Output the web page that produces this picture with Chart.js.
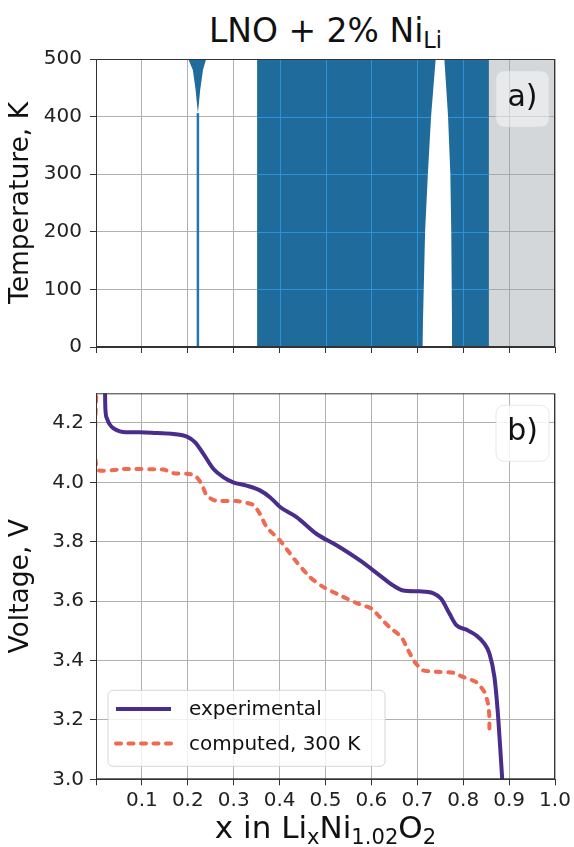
<!DOCTYPE html>
<html>
<head>
<meta charset="utf-8">
<script src="https://cdn.jsdelivr.net/npm/chart.js@4.4.1/dist/chart.umd.min.js"></script>
<style>
  html, body { margin: 0; padding: 0; background: #fff; }
  #wrap { position: relative; width: 574px; height: 847px; font-family: 'DejaVu Sans', sans-serif; color: #111; }
  canvas { position: absolute; left: 0; }
  #topChart { top: 0; z-index: 1; }
  #bottomChart { top: 360px; }
  .title { position: absolute; left: 96px; width: 459px; text-align: center; line-height: 1; white-space: nowrap; }
  .sub { font-size: 0.68em; position: relative; top: 0.28em; }
</style>
</head>
<body>
<div id="wrap">
  <canvas id="bottomChart" width="574" height="487"></canvas>
  <canvas id="topChart" width="574" height="367"></canvas>
  <div class="title" style="top:14px; font-size:33px;">LNO + 2% Ni<span class="sub">Li</span></div>
  <div class="title" style="top:812px; font-size:31px;">x in Li<span class="sub">x</span>Ni<span class="sub">1.02</span>O<span class="sub">2</span></div>
</div>
<script>
// axes
const xTicks = [0, 0.1, 0.2, 0.3, 0.4, 0.5, 0.6, 0.7, 0.8, 0.9, 1.0];
const xTickLabels = ['', '0.1', '0.2', '0.3', '0.4', '0.5', '0.6', '0.7', '0.8', '0.9', '1.0'];
const tTicks = [0, 100, 200, 300, 400, 500];
const vTicks = [3.0, 3.2, 3.4, 3.6, 3.8, 4.0, 4.2];

// a) phase map: ordered region (block), disordered gap, narrow spike, unstable range
const blockX = [0.351, 0.351, 0.856, 0.856];
const blockT = [0, 500, 500, 0];
const gapX = [0.711, 0.714, 0.717, 0.723, 0.730, 0.740, 0.759, 0.767, 0.772, 0.774, 0.775, 0.776];
const gapT = [0, 100, 200, 300, 400, 500, 500, 400, 300, 200, 100, 0];
const spikeX = [0.201, 0.211, 0.217, 0.222, 0.227, 0.233, 0.240];
const spikeT = [500, 481, 446, 406, 446, 481, 500];
const stemX = [0.222, 0.222];
const stemT = [0, 406];
const greyX = [0.856, 0.856, 1.0, 1.0];
const greyT = [0, 500, 500, 0];

// b) voltage profiles
const expX = [0.0195, 0.020, 0.021, 0.024, 0.030, 0.040, 0.052, 0.065, 0.096, 0.133, 0.169, 0.198, 0.216, 0.234,
  0.256, 0.278, 0.299, 0.328, 0.357, 0.379, 0.401, 0.437, 0.480, 0.524, 0.575, 0.618, 0.647, 0.669, 0.705,
  0.734, 0.752, 0.770, 0.785, 0.807, 0.828, 0.846, 0.857, 0.868, 0.875, 0.880, 0.885];
const expV = [4.33, 4.27, 4.235, 4.215, 4.195, 4.18, 4.172, 4.169, 4.169, 4.166, 4.163, 4.154, 4.135, 4.096,
  4.045, 4.017, 4.0, 3.989, 3.973, 3.950, 3.917, 3.883, 3.827, 3.788, 3.737, 3.687, 3.653, 3.636, 3.633,
  3.627, 3.608, 3.558, 3.519, 3.504, 3.485, 3.457, 3.424, 3.345, 3.233, 3.121, 3.0];
const calcX = [0.001, 0.002, 0.060, 0.147, 0.169, 0.198, 0.216, 0.230, 0.241, 0.259, 0.307, 0.343, 0.357, 0.372,
  0.401, 0.415, 0.437, 0.466, 0.495, 0.531, 0.567, 0.600, 0.618, 0.639, 0.665, 0.680, 0.694, 0.712, 0.741,
  0.778, 0.799, 0.828, 0.846, 0.854, 0.857, 0.857];
const calcV = [4.33, 4.045, 4.045, 4.043, 4.031, 4.029, 4.023, 3.995, 3.956, 3.939, 3.937, 3.924, 3.894, 3.849,
  3.804, 3.776, 3.732, 3.681, 3.648, 3.620, 3.594, 3.575, 3.547, 3.513, 3.480, 3.435, 3.396, 3.367, 3.362,
  3.359, 3.345, 3.328, 3.295, 3.255, 3.211, 3.155];

const FONT = 'DejaVu Sans';
Chart.defaults.font.family = FONT;
Chart.defaults.color = '#111';

const pts = (xs, ys) => xs.map((x, i) => ({ x, y: ys[i] }));
const NONE = 'rgba(0,0,0,0)';

function roundRect(ctx, x, y, w, h, r) {
  ctx.beginPath();
  ctx.moveTo(x + r, y);
  ctx.arcTo(x + w, y, x + w, y + h, r);
  ctx.arcTo(x + w, y + h, x, y + h, r);
  ctx.arcTo(x, y + h, x, y, r);
  ctx.arcTo(x, y, x + w, y, r);
  ctx.closePath();
}

// frame, panel tag, bright grid over the dark block, inset legend
const panelDecor = {
  id: 'panelDecor',
  afterDatasetDraw(chart, args, opts) {
    if (opts.gridOver === undefined || args.index !== opts.gridOver) return;
    const { ctx, chartArea: a, scales } = chart;
    const xs = chart.data.datasets[args.index].data.map(p => scales.x.getPixelForValue(p.x));
    const x0 = Math.min(...xs), x1 = Math.max(...xs);
    ctx.save();
    ctx.beginPath();
    ctx.rect(x0, a.top, x1 - x0, a.bottom - a.top);
    ctx.clip();
    ctx.strokeStyle = '#2b93dc';
    ctx.lineWidth = 1;
    ctx.beginPath();
    scales.x.ticks.forEach(t => {
      const x = Math.round(scales.x.getPixelForValue(t.value)) + 0.5;
      ctx.moveTo(x, a.top); ctx.lineTo(x, a.bottom);
    });
    scales.y.ticks.forEach(t => {
      const y = Math.round(scales.y.getPixelForValue(t.value)) + 0.5;
      ctx.moveTo(a.left, y); ctx.lineTo(a.right, y);
    });
    ctx.stroke();
    ctx.restore();
  },
  afterDraw(chart, args, opts) {
    const { ctx, chartArea: a } = chart;
    ctx.save();
    ctx.strokeStyle = '#333';
    ctx.lineWidth = 1;
    ctx.strokeRect(a.left + 0.5, a.top + 0.5, a.right - a.left - 1, a.bottom - a.top - 1);

    // panel tag
    roundRect(ctx, a.right - 59, a.top + 12, 53, 56, 8);
    ctx.fillStyle = `rgba(255,255,255,${opts.tagAlpha})`;
    ctx.fill();
    ctx.strokeStyle = 'rgba(215,215,215,0.6)';
    ctx.stroke();
    ctx.fillStyle = '#111';
    ctx.font = `30px ${FONT}`;
    ctx.textAlign = 'center';
    ctx.textBaseline = 'middle';
    ctx.fillText(opts.tag, a.right - 32.5, a.top + 39);

    if (opts.legend) {
      const lx = a.left + 12, ly = a.bottom - 89;
      roundRect(ctx, lx, ly, 277, 76, 5);
      ctx.fillStyle = 'rgba(255,255,255,0.8)';
      ctx.fill();
      ctx.strokeStyle = 'rgba(204,204,204,0.8)';
      ctx.stroke();
      ctx.textAlign = 'left';
      ctx.font = `20px ${FONT}`;
      chart.data.datasets.forEach((ds, i) => {
        const y = ly + 18.6 + i * 34.7;
        ctx.beginPath();
        ctx.strokeStyle = ds.borderColor;
        ctx.lineWidth = ds.borderWidth;
        ctx.lineCap = ds.borderCapStyle || 'butt';
        ctx.setLineDash(ds.borderDash || []);
        ctx.moveTo(lx + 8, y);
        ctx.lineTo(lx + 63, y);
        ctx.stroke();
        ctx.setLineDash([]);
        ctx.fillStyle = '#111';
        ctx.fillText(ds.label, lx + 81, y + 1);
      });
    }
    ctx.restore();
  }
};

function xScale(showLabels) {
  return {
    type: 'linear',
    min: 0,
    max: 1,
    afterBuildTicks: s => { s.ticks = xTicks.map(v => ({ value: v })); },
    afterFit: s => { s.height = showLabels ? 67.7 : 6; },
    grid: { color: '#b0b0b0', lineWidth: 1, tickLength: 6, tickColor: '#333' },
    border: { color: '#333' },
    ticks: {
      display: showLabels,
      font: { size: 20 },
      color: '#222',
      padding: 3,
      maxRotation: 0,
      autoSkip: false,
      callback: (v, i) => xTickLabels[i]
    }
  };
}

function yScale(min, max, ticks, title, fmt, pad) {
  return {
    type: 'linear',
    min,
    max,
    afterBuildTicks: s => { s.ticks = ticks.map(v => ({ value: v })); },
    afterFit: s => { s.width = 96; },
    grid: { color: '#b0b0b0', lineWidth: 1, tickLength: 6, tickColor: '#333' },
    border: { color: '#333' },
    ticks: { font: { size: 20 }, color: '#222', padding: pad, callback: v => fmt(v) },
    title: { display: true, text: title, font: { size: 26.5 }, color: '#111', padding: { top: 5, bottom: 0 } }
  };
}

const baseOpts = {
  responsive: false,
  animation: false,
  devicePixelRatio: 1,
  elements: { point: { radius: 0 } }
};

new Chart(document.getElementById('topChart'), {
  type: 'line',
  data: {
    datasets: [
      { label: 'gap', data: pts(gapX, gapT), fill: 'origin', backgroundColor: '#ffffff', borderColor: NONE, borderWidth: 0, clip: 0 },
      { label: 'spike', data: pts(spikeX, spikeT), fill: 'end', backgroundColor: '#1f6b9b', borderColor: NONE, borderWidth: 0, clip: 0 },
      { label: 'stem', data: pts(stemX, stemT), fill: false, borderColor: '#1f77b4', borderWidth: 2.5, clip: 0 },
      { label: 'ordered', data: pts(blockX, blockT), fill: 'origin', backgroundColor: '#1f6b9b', borderColor: NONE, borderWidth: 0, clip: 0 },
      { label: 'unstable', data: pts(greyX, greyT), fill: 'origin', backgroundColor: 'rgba(160,166,172,0.45)', borderColor: NONE, borderWidth: 0, clip: 0 }
    ]
  },
  options: {
    ...baseOpts,
    layout: { padding: { top: 59, right: 19, left: 0, bottom: 0 } },
    scales: {
      x: xScale(false),
      y: yScale(0, 500, tTicks, 'Temperature, K', v => String(v), 8)
    },
    plugins: {
      legend: { display: false },
      tooltip: { enabled: false },
      panelDecor: { tag: 'a)', tagAlpha: 0.45, gridOver: 3 }
    }
  },
  plugins: [panelDecor]
});

new Chart(document.getElementById('bottomChart'), {
  type: 'line',
  data: {
    datasets: [
      {
        label: 'experimental',
        data: pts(expX, expV),
        borderColor: '#4a2c8c',
        borderWidth: 4,
        cubicInterpolationMode: 'monotone',
        fill: false,
        clip: 0
      },
      {
        label: 'computed, 300 K',
        data: pts(calcX, calcV),
        borderColor: '#f06a52',
        borderWidth: 4,
        borderDash: [5, 7.5],
        borderCapStyle: 'round',
        tension: 0.2,
        fill: false,
        clip: 0
      }
    ]
  },
  options: {
    ...baseOpts,
    layout: { padding: { top: 33.3, right: 19, left: 0, bottom: 0 } },
    scales: {
      x: xScale(true),
      y: yScale(3.0, 4.3, vTicks, 'Voltage, V', v => v.toFixed(1), 6)
    },
    plugins: {
      legend: { display: false },
      tooltip: { enabled: false },
      panelDecor: { tag: 'b)', tagAlpha: 0.85, legend: true }
    }
  },
  plugins: [panelDecor]
});
</script>
</body>
</html>
